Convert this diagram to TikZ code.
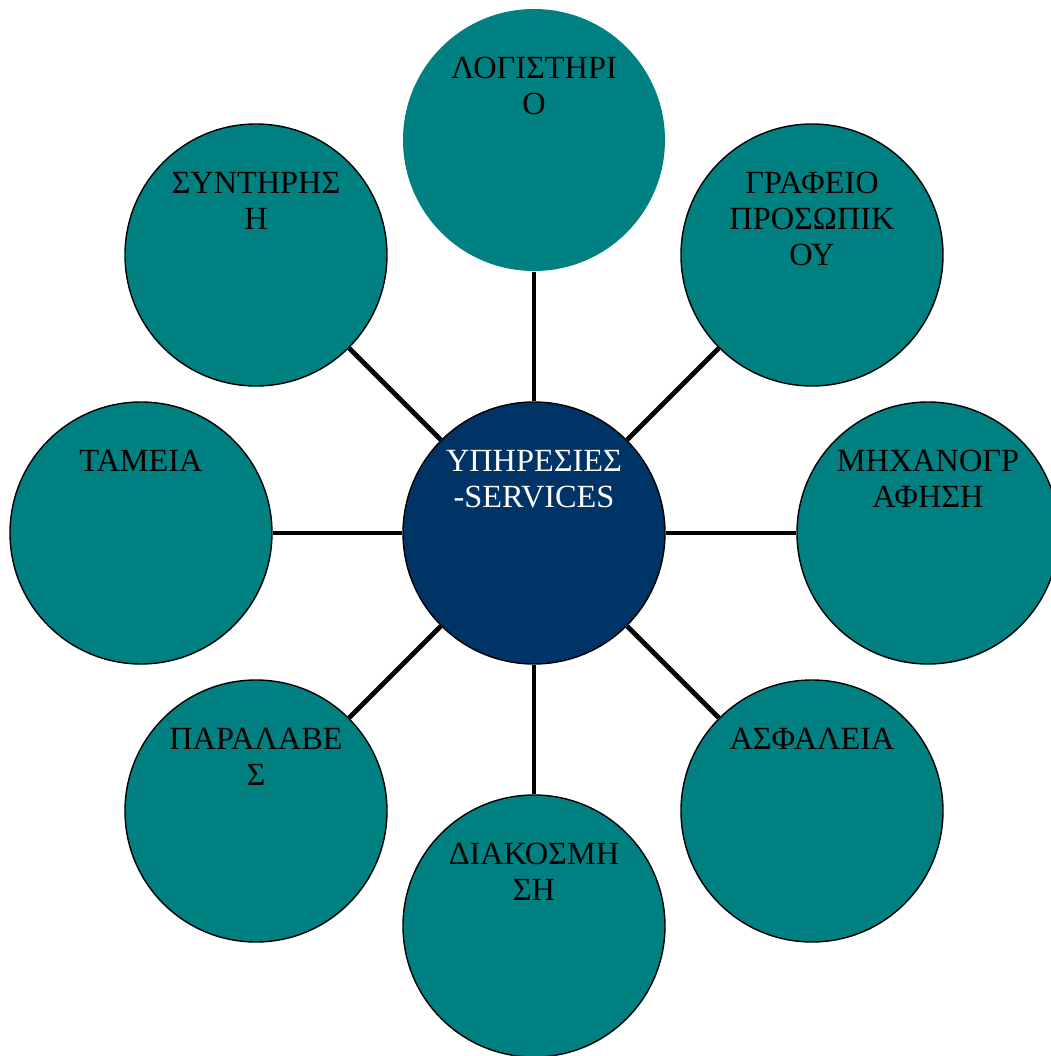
\documentclass[tikz,border=0pt]{standalone}
\usepackage{fontspec}
\setmainfont{Liberation Serif}
\usepackage{xcolor}
\usepackage{tikz}
\usetikzlibrary{positioning,backgrounds}
\definecolor{unitteal}{HTML}{008080}
\definecolor{hubnavy}{HTML}{003366}
\tikzset{
  unitbox/.style={
    circle,
    draw=black,
    fill=unitteal,
    line width=0.8pt,
    minimum size=5.24cm,
    inner sep=0pt
  },
  hubbox/.style={unitbox, fill=hubnavy},
  unittext/.style={
    font=\fontsize{18.4}{20.6}\selectfont,
    align=center,
    inner sep=0pt
  },
  hubtext/.style={unittext, text=white},
  link/.style={line width=2.8pt, draw=black}
}

\begin{document}
\begin{tikzpicture}[x=1cm,y=1cm]
  \useasboundingbox (-10.68,-10.46) rectangle (10.32,10.66);

  % hub and the eight departments around it
  \node[hubbox] (hub) at (0,0) {};
  \node[unitbox, draw=none] (acc) at (0,7.86) {};
  \node[unitbox] (staff) at (5.56,5.56) {};
  \node[unitbox] (it) at (7.88,0) {};
  \node[unitbox] (safety) at (5.56,-5.56) {};
  \node[unitbox] (deco) at (0,-7.86) {};
  \node[unitbox] (recv) at (-5.56,-5.56) {};
  \node[unitbox] (cash) at (-7.86,0) {};
  \node[unitbox] (maint) at (-5.56,5.56) {};

  % spokes
  \begin{scope}[on background layer]
    \draw[link] (hub) -- (acc);
    \draw[link] (hub) -- (staff);
    \draw[link] (hub) -- (it);
    \draw[link] (hub) -- (safety);
    \draw[link] (hub) -- (deco);
    \draw[link] (hub) -- (recv);
    \draw[link] (hub) -- (cash);
    \draw[link] (hub) -- (maint);
  \end{scope}

  % labels hang from near the top of each circle
  \node[hubtext, above=1.67cm of hub.center, anchor=north] (hub-t) {ΥΠΗΡΕΣΙΕΣ\\-SERVICES};
  \node[unittext, above=1.67cm of acc.center, anchor=north] (acc-t) {ΛΟΓΙΣΤΗΡΙ\\Ο};
  \node[unittext, above=1.67cm of staff.center, anchor=north] (staff-t) {ΓΡΑΦΕΙΟ\\ΠΡΟΣΩΠΙΚ\\ΟΥ};
  \node[unittext, above=1.67cm of it.center, anchor=north] (it-t) {ΜΗΧΑΝΟΓΡ\\ΑΦΗΣΗ};
  \node[unittext, above=1.67cm of safety.center, anchor=north] (safety-t) {ΑΣΦΑΛΕΙΑ};
  \node[unittext, above=1.67cm of deco.center, anchor=north] (deco-t) {ΔΙΑΚΟΣΜΗ\\ΣΗ};
  \node[unittext, above=1.67cm of recv.center, anchor=north] (recv-t) {ΠΑΡΑΛΑΒΕ\\Σ};
  \node[unittext, above=1.67cm of cash.center, anchor=north] (cash-t) {ΤΑΜΕΙΑ};
  \node[unittext, above=1.67cm of maint.center, anchor=north] (maint-t) {ΣΥΝΤΗΡΗΣ\\Η};
\end{tikzpicture}
\end{document}
